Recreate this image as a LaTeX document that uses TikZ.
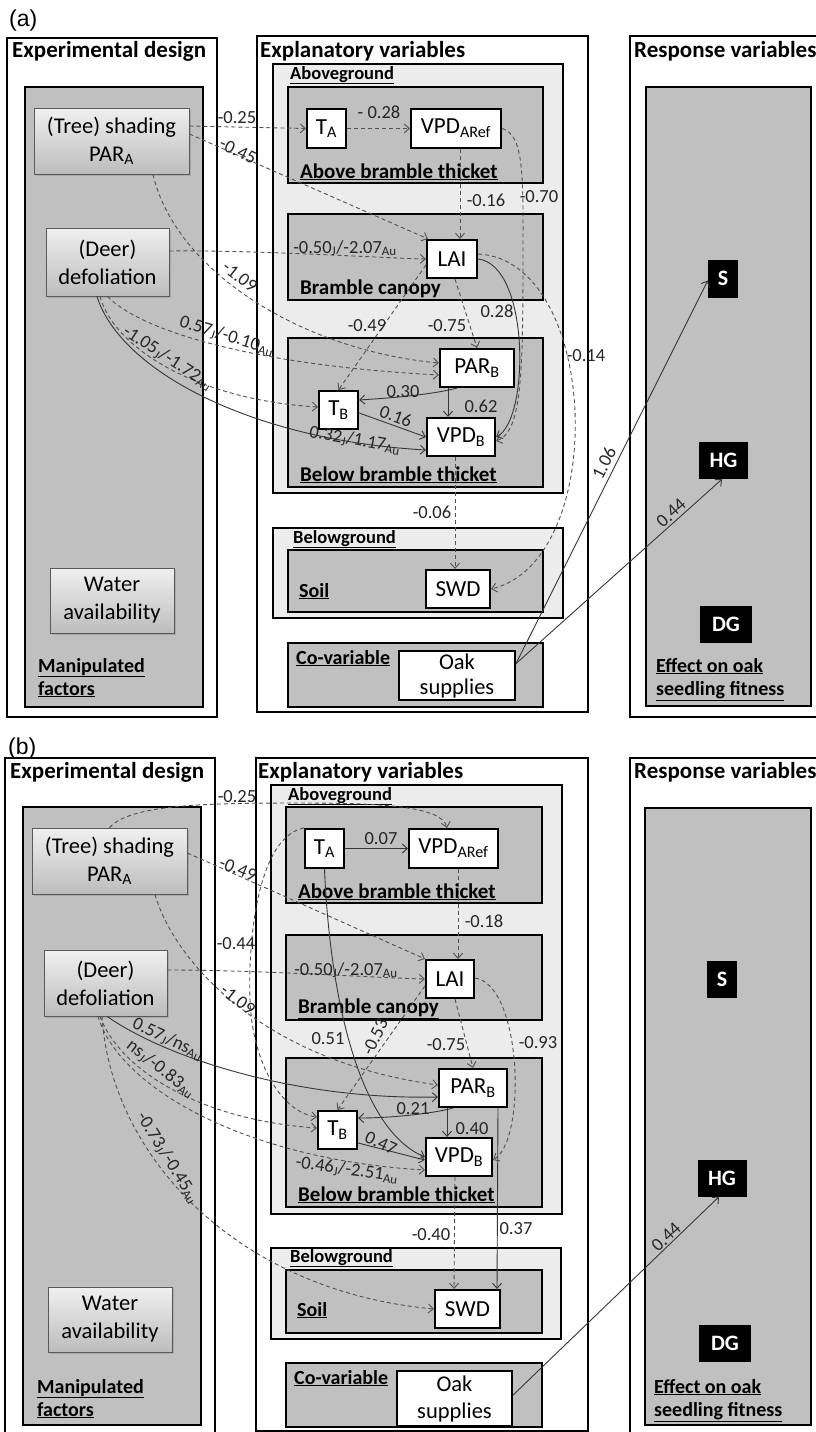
\documentclass[tikz,border=0pt]{standalone}
\usepackage{fontspec}
\setmainfont{Carlito}
\newfontfamily\arialfont{Liberation Sans}
\usetikzlibrary{arrows.meta,shadows}
\definecolor{boxgrey}{RGB}{192,192,192}
\definecolor{lightbg}{RGB}{236,236,236}
\definecolor{linec}{RGB}{55,55,55}
\definecolor{dashc}{RGB}{80,80,80}
\tikzset{
  mypanel/.style={draw=black, line width=2pt, fill=white},
  greyc/.style={draw=black, line width=2.6pt, fill=boxgrey},
  lightc/.style={draw=black, line width=2.6pt, fill=lightbg},
  ttl/.style={anchor=base west, inner sep=0pt, font=\fontsize{23}{23}\selectfont\bfseries},
  sublbl/.style={anchor=base west, inner sep=0pt, font=\fontsize{18.5}{18.5}\selectfont\bfseries},
  sublblb/.style={anchor=base west, inner sep=0pt, font=\fontsize{21}{21}\selectfont\bfseries},
  cornerlbl/.style={anchor=base west, inner sep=0pt, font=\fontsize{20}{20}\selectfont\bfseries},
  varbox/.style={draw=black, line width=2.2pt, fill=white, inner sep=0pt, font=\fontsize{23}{23}\selectfont},
  manip/.style={draw=black!65, line width=0.8pt, top color=white!94!black, bottom color=white!74!black, drop shadow={shadow xshift=2pt, shadow yshift=-2pt, opacity=0.35}, align=center, inner sep=0pt, font=\fontsize{22.5}{28}\selectfont},
  resp/.style={fill=black, inner sep=0pt, text=white, font=\fontsize{22}{22}\selectfont\bfseries},
  lbl/.style={inner sep=0pt, font=\fontsize{18.5}{18.5}\selectfont, text=black!85},
  conn/.style={draw=linec, line width=0.9pt, -{Straight Barb[length=5pt,width=9pt]}},
  dconn/.style={conn, draw=dashc, dash pattern=on 4pt off 3pt},
}
\newcommand{\sbs}[1]{\textsubscript{#1}}
\begin{document}
\begin{tikzpicture}[x=1pt,y=-1pt]
\useasboundingbox (0,0) rectangle (816,1432);
\fill[white] (0,0) rectangle (816,1432);

%================ PANEL (a) =================
\node[anchor=base west, inner sep=0pt, font=\arialfont\fontsize{23}{23}\selectfont] (pa) at (9,27) {(a)};
% containers
\draw[mypanel] (7,38) rectangle (217,717);
\draw[greyc] (25,87) rectangle (203,707);
\draw[mypanel] (257,36) rectangle (588,712);
\draw[lightc] (273,64) rectangle (563,493);
\draw[greyc] (288,87) rectangle (543,183);
\draw[greyc] (288,214) rectangle (543,300);
\draw[greyc] (288,338) rectangle (543,487);
\draw[lightc] (273,528) rectangle (563,618);
\draw[greyc] (288,550) rectangle (543,612);
\draw[greyc] (288,643) rectangle (543,707);
\draw[mypanel] (630,36) rectangle (822,717);
\draw[greyc] (646,87) rectangle (811,706);
% titles
\node[ttl] (ta1) at (12,57) {Experimental design};
\node[ttl] (ta2) at (260,57) {Explanatory variables};
\node[ttl] (ta3) at (634,57) {Response variables};
\node[sublbl] (sa1) at (290,79) {\underline{Aboveground}};
\node[sublblb] (sa2) at (300,178) {\underline{Above bramble thicket}};
\node[sublblb] (sa3) at (300,294) {\underline{Bramble canopy}};
\node[sublblb] (sa4) at (300,481) {\underline{Below bramble thicket}};
\node[sublbl] (sa5) at (293,543) {\underline{Belowground}};
\node[cornerlbl] (sa6) at (299,597) {\underline{Soil}};
\node[cornerlbl] (sa7) at (296,664) {\underline{Co-variable}};
\node[cornerlbl] (sa8) at (38,672) {\underline{Manipulated}};
\node[cornerlbl] (sa8b) at (38,695) {\underline{factors}};
\node[cornerlbl] (sa9) at (656,672) {\underline{Effect on oak}};
\node[cornerlbl] (sa9b) at (656,695) {\underline{seedling fitness}};
% variable nodes
\node[manip, minimum width=155pt, minimum height=66pt] (treeA) at (111.5,141) {(Tree) shading\\PAR\sbs{A}};
\node[manip, minimum width=123pt, minimum height=68pt] (deerA) at (107.5,262) {(Deer)\\defoliation};
\node[manip, minimum width=124pt, minimum height=65pt] (waterA) at (112,600.5) {Water\\availability};
\node[varbox, minimum width=39pt, minimum height=39pt] (taA) at (326.5,128.5) {T\sbs{A}};
\node[varbox, minimum width=90pt, minimum height=39pt] (vpdrA) at (456,128.5) {VPD\sbs{ARef}};
\node[varbox, minimum width=50pt, minimum height=38pt] (laiA) at (452,259) {LAI};
\node[varbox, minimum width=74pt, minimum height=38pt] (parbA) at (477,368) {PAR\sbs{B}};
\node[varbox, minimum width=39pt, minimum height=38pt] (tbA) at (338.5,410) {T\sbs{B}};
\node[varbox, minimum width=68pt, minimum height=38pt] (vpdbA) at (461,437) {VPD\sbs{B}};
\node[varbox, minimum width=64pt, minimum height=38pt] (swdA) at (458,589) {SWD};
\node[varbox, align=center, minimum width=116pt, minimum height=49pt, font=\fontsize{22.5}{25}\selectfont] (oakA) at (457,675.5) {Oak\\supplies};
\node[resp, minimum width=30pt, minimum height=38pt] (sA) at (723,278.5) {S};
\node[resp, minimum width=49pt, minimum height=37pt] (hgA) at (723.5,460.5) {HG};
\node[resp, minimum width=52pt, minimum height=37pt] (dgA) at (726,624.5) {DG};
% connectors
\draw[dconn] ([yshift=15pt]treeA.east) -- (taA.west);
\draw[dconn] ([yshift=7pt]treeA.east) -- ([xshift=2pt]laiA.north west);
\draw[dconn] ([xshift=41.5pt]treeA.south) .. controls (175,270) and (300,350) .. ([yshift=5pt]parbA.west);
\draw[dconn] ([yshift=11pt]deerA.east) .. controls (260,250) and (380,258) .. (laiA.west);
\draw[dconn] (deerA.south) .. controls (140,330) and (250,365) .. ([yshift=-7pt]parbA.west);
\draw[dconn] ([xshift=-7.5pt]deerA.south) .. controls (115,350) and (200,400) .. ([yshift=3pt]tbA.west);
\draw[conn] ([xshift=-10.5pt]deerA.south) .. controls (120,370) and (250,440) .. ([yshift=-13pt]vpdbA.west);
\draw[dconn] (taA.east) -- (vpdrA.west);
\draw[dconn] ([xshift=4pt]vpdrA.south) -- ([xshift=8pt]laiA.north);
\draw[dconn] (vpdrA.east) .. controls (525,135) and (523,180) .. (523,260) .. controls (523,380) and (521,432) .. ([yshift=-4pt]vpdbA.east);
\draw[conn] (laiA.east) .. controls (530,265) and (530,420) .. (vpdbA.east);
\draw[dconn] ([yshift=5pt]laiA.east) .. controls (600,260) and (610,560) .. (swdA.east);
\draw[dconn] ([xshift=3pt]laiA.south) -- (parbA.north);
\draw[dconn] ([yshift=-6pt]laiA.west) -- (tbA.north);
\draw[conn] ([xshift=-29pt]parbA.south) -- ([xshift=-13pt]vpdbA.north);
\draw[conn] ([xshift=-20pt]parbA.south) .. controls (430,395) and (390,398) .. ([yshift=10pt]tbA.east);
\draw[conn] ([yshift=-3pt]tbA.east) -- (vpdbA.west);
\draw[dconn] ([xshift=-6pt]vpdbA.south) -- ([xshift=-3pt]swdA.north);
\draw[conn] ([yshift=12pt]oakA.east) -- ([yshift=-2pt]sA.west);
\draw[conn] ([yshift=12pt]oakA.east) -- ([xshift=-1.5pt]hgA.south);
% labels
\node[lbl] (la1) at (237,118) {-0.25};
\node[lbl, rotate=-26] (la2) at (238,151) {-0.45};
\node[lbl, rotate=-38] (la3) at (240,277) {-1.09};
\node[lbl] (la4) at (345,248) {-0.50\sbs{J}/-2.07\sbs{Au}};
\node[lbl, rotate=-17] (la5) at (227,336) {0.57\sbs{J}/-0.10\sbs{Au}};
\node[lbl, rotate=-33] (la6) at (168,358) {-1.05\sbs{J}/-1.72\sbs{Au}};
\node[lbl, rotate=-10] (la7) at (355,440) {0.32\sbs{J}/1.17\sbs{Au}};
\node[lbl] (la8) at (379,112) {- 0.28};
\node[lbl] (la9) at (486,200) {-0.16};
\node[lbl] (la10) at (539,197) {-0.70};
\node[lbl] (la11) at (497,311) {0.28};
\node[lbl] (la12) at (586,356) {-0.14};
\node[lbl] (la13) at (447,326) {-0.75};
\node[lbl] (la14) at (367,326) {-0.49};
\node[lbl] (la15) at (481,406) {0.62};
\node[lbl] (la16) at (403,392) {0.30};
\node[lbl, rotate=-20] (la17) at (396,416) {0.16};
\node[lbl] (la18) at (432,512) {-0.06};
\node[lbl, rotate=63] (la19) at (604,463) {1.06};
\node[lbl, rotate=42] (la20) at (671,513) {0.44};

%================ PANEL (b) =================
\node[anchor=base west, inner sep=0pt, font=\arialfont\fontsize{23}{23}\selectfont] (pb) at (8,754) {(b)};
\draw[mypanel] (5,758) rectangle (215,1440);
\draw[greyc] (23,807) rectangle (201,1425);
\draw[mypanel] (256,758) rectangle (588,1431);
\draw[lightc] (271,785) rectangle (562,1214);
\draw[greyc] (286,807) rectangle (542,903);
\draw[greyc] (286,935) rectangle (542,1020);
\draw[greyc] (286,1058) rectangle (542,1207);
\draw[lightc] (271,1248) rectangle (561,1339);
\draw[greyc] (286,1270) rectangle (542,1333);
\draw[greyc] (286,1363) rectangle (542,1427);
\draw[mypanel] (630,758) rectangle (822,1440);
\draw[greyc] (645,808) rectangle (811,1425);
\node[ttl] (tb1) at (10,778) {Experimental design};
\node[ttl] (tb2) at (258,778) {Explanatory variables};
\node[ttl] (tb3) at (634,778) {Response variables};
\node[sublbl] (sb1) at (288,800) {\underline{Aboveground}};
\node[sublblb] (sb2) at (298,898) {\underline{Above bramble thicket}};
\node[sublblb] (sb3) at (298,1013) {\underline{Bramble canopy}};
\node[sublblb] (sb4) at (298,1201) {\underline{Below bramble thicket}};
\node[sublbl] (sb5) at (290,1262) {\underline{Belowground}};
\node[cornerlbl] (sb6) at (297,1316) {\underline{Soil}};
\node[cornerlbl] (sb7) at (294,1384) {\underline{Co-variable}};
\node[cornerlbl] (sb8) at (37,1393) {\underline{Manipulated}};
\node[cornerlbl] (sb8b) at (37,1416) {\underline{factors}};
\node[cornerlbl] (sb9) at (654,1393) {\underline{Effect on oak}};
\node[cornerlbl] (sb9b) at (654,1416) {\underline{seedling fitness}};
\node[manip, minimum width=155pt, minimum height=66pt] (treeB) at (109.5,861) {(Tree) shading\\PAR\sbs{A}};
\node[manip, minimum width=123pt, minimum height=66pt] (deerB) at (105.5,983) {(Deer)\\defoliation};
\node[manip, minimum width=124pt, minimum height=65pt] (waterB) at (110,1319.5) {Water\\availability};
\node[varbox, minimum width=39pt, minimum height=39pt] (taB) at (324.5,848.5) {T\sbs{A}};
\node[varbox, minimum width=89pt, minimum height=39pt] (vpdrB) at (453.5,848.5) {VPD\sbs{ARef}};
\node[varbox, minimum width=48pt, minimum height=38pt] (laiB) at (450,979) {LAI};
\node[varbox, minimum width=68pt, minimum height=38pt] (parbB) at (473,1088) {PAR\sbs{B}};
\node[varbox, minimum width=39pt, minimum height=38pt] (tbB) at (337.5,1130) {T\sbs{B}};
\node[varbox, minimum width=66pt, minimum height=38pt] (vpdbB) at (459,1157) {VPD\sbs{B}};
\node[varbox, minimum width=65pt, minimum height=38pt] (swdB) at (467.5,1309) {SWD};
\node[varbox, align=center, minimum width=115pt, minimum height=55pt, font=\fontsize{22.5}{27}\selectfont] (oakB) at (454.5,1398.5) {Oak\\supplies};
\node[resp, minimum width=30pt, minimum height=37pt] (sB) at (722,979) {S};
\node[resp, minimum width=49pt, minimum height=37pt] (hgB) at (722,1178) {HG};
\node[resp, minimum width=52pt, minimum height=37pt] (dgB) at (725,1343) {DG};
% connectors
\draw[dconn] (treeB.north) .. controls (130,805) and (200,803) .. (300,803) .. controls (380,803) and (442,806) .. ([xshift=-6.5pt]vpdrB.north);
\draw[dconn] ([yshift=8pt]treeB.east) -- (laiB.north west);
\draw[dconn] ([xshift=45.5pt]treeB.south) .. controls (172,955) and (255,1060) .. ([yshift=3pt]parbB.west);
\draw[dconn] ([yshift=13pt]deerB.east) .. controls (260,970) and (380,978) .. (laiB.west);
\draw[dconn] (taB.north west) .. controls (255,838) and (248,950) .. (250,1000) .. controls (252,1060) and (280,1112) .. ([yshift=13pt]tbB.west);
\draw[conn] (taB.south) .. controls (330,1000) and (360,1130) .. (vpdbB.west);
\draw[dconn] ([yshift=-7pt]laiB.west) -- (tbB.north);
\draw[dconn] ([xshift=5pt]laiB.south) -- (parbB.north);
\draw[dconn] ([yshift=1pt]laiB.east) .. controls (522,985) and (527,1140) .. ([yshift=-3pt]vpdbB.east);
\draw[dconn] ([xshift=4.5pt]vpdrB.south) -- ([xshift=8pt]laiB.north);
\draw[conn] (taB.east) -- (vpdrB.west);
\draw[conn] ([xshift=-20pt]parbB.south) .. controls (430,1114) and (390,1118) .. ([yshift=12pt]tbB.east);
\draw[conn] ([xshift=-26pt]parbB.south) -- ([xshift=-12pt]vpdbB.north);
\draw[conn] ([yshift=-13pt]tbB.east) -- ([yshift=-3pt]vpdbB.west);
\draw[conn] ([xshift=1.5pt]deerB.south) .. controls (170,1060) and (300,1100) .. ([yshift=-9pt]parbB.west);
\draw[dconn] ([xshift=-5.5pt]deerB.south) .. controls (120,1070) and (200,1120) .. ([yshift=2pt]tbB.west);
\draw[dconn] ([xshift=-7.5pt]deerB.south) .. controls (120,1090) and (250,1160) .. ([yshift=-13pt]vpdbB.west);
\draw[dconn] ([xshift=-3.5pt]deerB.south) .. controls (110,1150) and (230,1290) .. (swdB.west);
\draw[dconn] ([xshift=-4pt]vpdbB.south) -- ([xshift=-13.5pt]swdB.north);
\draw[conn] ([xshift=25pt]parbB.south) -- ([xshift=29.5pt]swdB.north);
\draw[conn] ([yshift=3.5pt]oakB.east) -- ([xshift=-3pt]hgB.south);
% labels
\node[lbl] (lb1) at (237,797) {-0.25};
\node[lbl, rotate=-22] (lb2) at (238,869) {-0.49};
\node[lbl, rotate=-38] (lb3) at (238,1000) {-1.09};
\node[lbl] (lb4) at (346,970) {-0.50\sbs{J}/-2.07\sbs{Au}};
\node[lbl] (lb5) at (236,944) {-0.44};
\node[lbl] (lb6) at (328,1039) {0.51};
\node[lbl, rotate=65] (lb7) at (375,1037) {-0.53};
\node[lbl] (lb8) at (446,1045) {-0.75};
\node[lbl] (lb9) at (538,1043) {-0.93};
\node[lbl] (lb10) at (484,921) {-0.18};
\node[lbl] (lb11) at (381,839) {0.07};
\node[lbl] (lb12) at (413,1109) {0.21};
\node[lbl] (lb13) at (472,1129) {0.40};
\node[lbl, rotate=-25] (lb14) at (381,1143) {0.47};
\node[lbl, rotate=-25] (lb15) at (168,1039) {0.57\sbs{J}/ns\sbs{Au}};
\node[lbl, rotate=-38] (lb16) at (161,1069) {ns\sbs{J}/-0.83\sbs{Au}};
\node[lbl, rotate=-8] (lb17) at (347,1170) {-0.46\sbs{J}/-2.51\sbs{Au}};
\node[lbl, rotate=-58] (lb18) at (168,1158) {-0.73\sbs{J}/-0.45\sbs{Au}};
\node[lbl] (lb19) at (431,1235) {-0.40};
\node[lbl] (lb20) at (516,1229) {0.37};
\node[lbl, rotate=43] (lb21) at (666,1237) {0.44};
\end{tikzpicture}
\end{document}
